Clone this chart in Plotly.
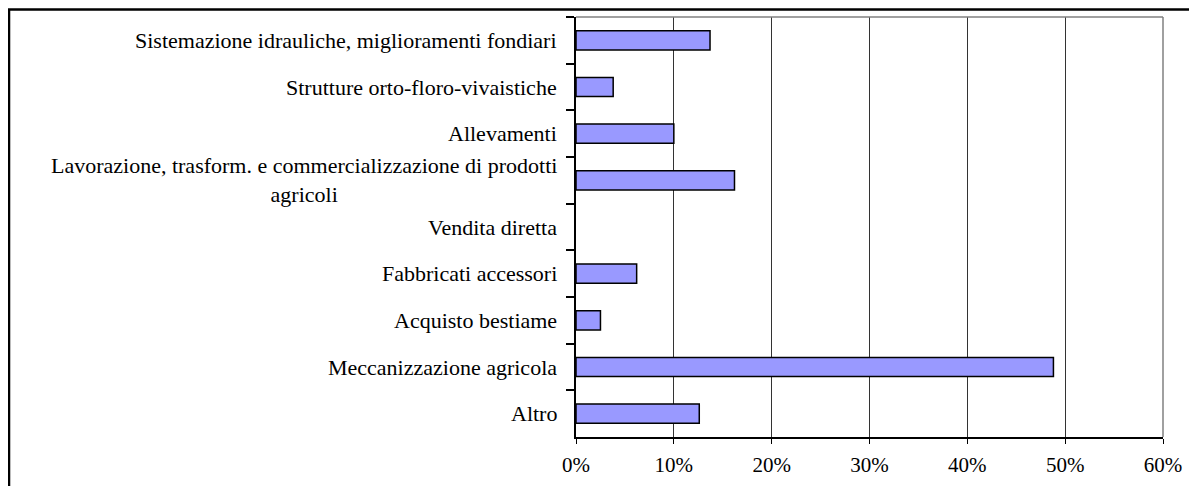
import plotly.graph_objects as go

categories = [
    "Sistemazione idrauliche, miglioramenti fondiari",
    "Strutture orto-floro-vivaistiche",
    "Allevamenti",
    "Lavorazione, trasform. e commercializzazione di prodotti<br>agricoli",
    "Vendita diretta",
    "Fabbricati accessori",
    "Acquisto bestiame",
    "Meccanizzazione agricola",
    "Altro",
]
values = [0.137, 0.038, 0.100, 0.162, 0.0, 0.062, 0.025, 0.488, 0.126]
x_ticks = [0, 0.1, 0.2, 0.3, 0.4, 0.5, 0.6]

FONT = "Liberation Serif, Times New Roman, serif"

fig = go.Figure()
fig.add_trace(go.Bar(
    y=categories,
    x=values,
    orientation="h",
    width=0.41,
    marker=dict(color="#9999FF",
                line=dict(color="black", width=[1.5 if v > 0 else 0 for v in values])),
    showlegend=False,
))

annotations = []
for c in categories:
    annotations.append(dict(
        x=0, xref="paper", y=c, yref="y",
        text=c, showarrow=False, xanchor="right", yanchor="middle",
        align="center", xshift=-17,
        font=dict(family=FONT, size=22, color="black"),
    ))

shapes = [
    # plot area top / right border (gray)
    dict(type="line", xref="paper", yref="paper", x0=0, x1=1, y0=1, y1=1,
         line=dict(color="#808080", width=1.5)),
    dict(type="line", xref="paper", yref="paper", x0=1, x1=1, y0=0, y1=1,
         line=dict(color="#808080", width=1.5)),
    # outer chart frame
    dict(type="rect", xref="paper", yref="paper",
         x0=-0.9659, x1=1.08, y0=-0.15, y1=1.018,
         line=dict(color="black", width=2.5), layer="above"),
]

# page body has an 8px offset; figure sized to fill the remaining window
fig.update_layout(
    width=1189, height=478,
    margin=dict(l=568, r=34, t=9, b=44),
    paper_bgcolor="white", plot_bgcolor="white",
    annotations=annotations,
    shapes=shapes,
    font=dict(family=FONT, color="black"),
)
fig.update_xaxes(
    range=[0, 0.6], tickvals=x_ticks, tickformat=".0%",
    showgrid=True, gridcolor="#333333", gridwidth=1,
    showline=True, linecolor="black", linewidth=1.5,
    ticks="outside", ticklen=5, tickcolor="black",
    tickfont=dict(family=FONT, size=21, color="black"),
    ticklabelstandoff=3,
    zeroline=False, fixedrange=True,
)
fig.update_yaxes(
    autorange="reversed", type="category",
    showticklabels=False, tickson="boundaries",
    ticks="outside", ticklen=8, tickcolor="black", tickwidth=1.5,
    showline=True, linecolor="black", linewidth=1.5,
    showgrid=False, zeroline=False, fixedrange=True,
)

fig.write_html("out.html")
